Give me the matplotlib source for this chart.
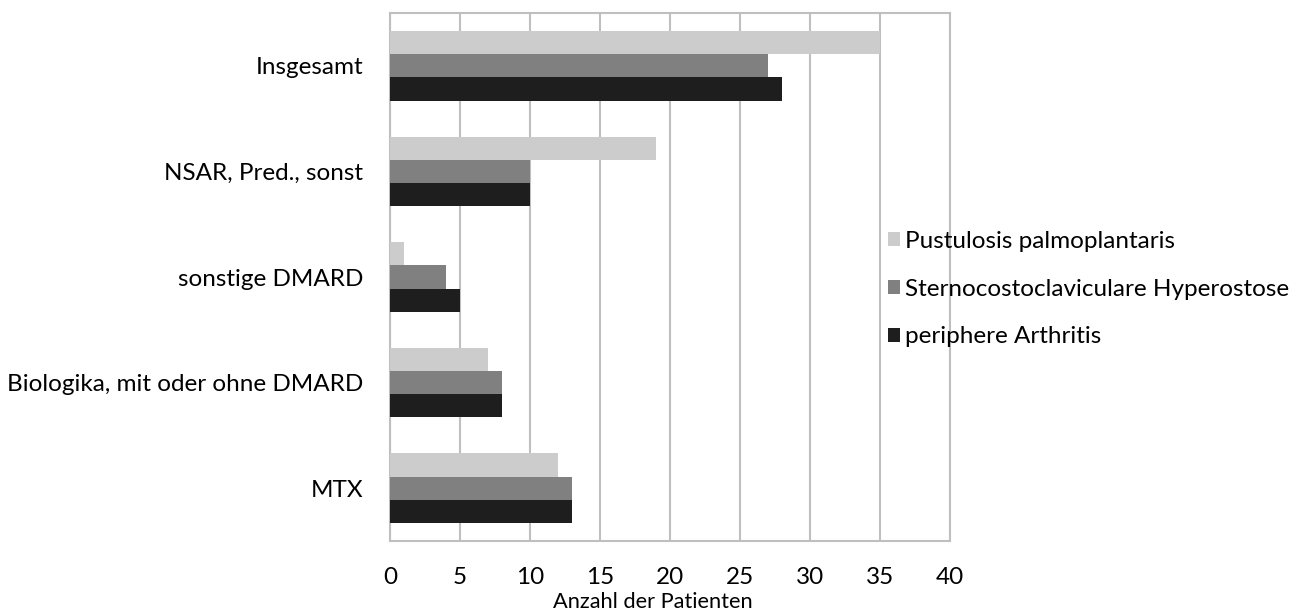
import matplotlib
matplotlib.use("Agg")
import numpy as np
import matplotlib.pyplot as plt

plt.rcParams['font.family'] = ['Lato', 'DejaVu Sans']

# Kategorien von oben nach unten
categories = ['Insgesamt', 'NSAR, Pred., sonst', 'sonstige DMARD',
              'Biologika, mit oder ohne DMARD', 'MTX']
series = ['Pustulosis palmoplantaris', 'Sternocostoclaviculare Hyperostose',
          'periphere Arthritis']
pustulosis = [35, 19, 1, 7, 12]
hyperostose = [27, 10, 4, 8, 13]
arthritis = [28, 10, 5, 8, 13]
colors = ['#cccccc', '#808080', '#1e1e1e']
xticks = [0, 5, 10, 15, 20, 25, 30, 35, 40]

fig = plt.figure(figsize=(12.97, 6.11), dpi=100)
ax = fig.add_axes([390 / 1297, 1 - 541 / 611, 560 / 1297, 528 / 611])

y = np.arange(len(categories))[::-1]
h = 0.22
for vals, off, col, name in zip([pustulosis, hyperostose, arthritis],
                                [h, 0, -h], colors, series):
    ax.barh(y + off, vals, height=h, color=col, label=name, zorder=3)

ax.set_xlim(0, 40)
ax.set_ylim(-0.5, len(categories) - 0.5)
ax.set_xticks(xticks)
ax.set_xticklabels([str(t) for t in xticks], fontsize=17.5)
ax.set_yticks(y)
ax.set_yticklabels(categories, fontsize=17.5)
ax.tick_params(axis='x', length=0, pad=18.5)
ax.tick_params(axis='y', length=0, pad=19.5)
ax.grid(True, axis='x', color='#bfbfbf', linewidth=1.5, zorder=0)
for s in ax.spines.values():
    s.set_color('#bfbfbf')
    s.set_linewidth(1.5)

# Achsentitel unter den Tick-Beschriftungen
fig.text(653 / 1297, 3 / 611, 'Anzahl der Patienten', fontsize=15.7,
         ha='center', va='baseline')

leg = fig.legend(loc='center left', bbox_to_anchor=(888 / 1297, 1 - 289 / 611),
                 frameon=False, fontsize=17.5, handlelength=0.5, handleheight=0.5,
                 handletextpad=0.2, labelspacing=1.1, borderaxespad=0,
                 borderpad=0)

fig.savefig('out.png', dpi=100)
